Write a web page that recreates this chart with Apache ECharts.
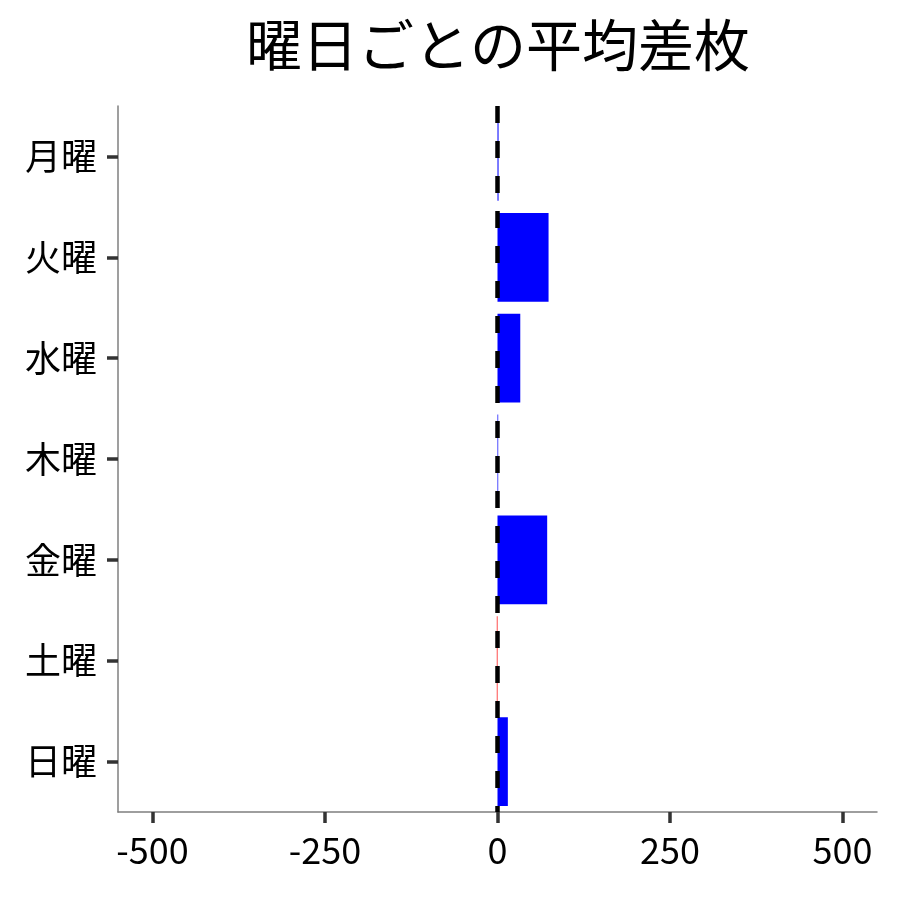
<!DOCTYPE html>
<html>
<head>
<meta charset="utf-8">
<script src="https://cdn.jsdelivr.net/npm/echarts@6/dist/echarts.min.js"></script>
<style>
    html, body { margin: 0; padding: 0; background: #fff; }
    #chart { width: 900px; height: 900px; }
</style>
</head>
<body>
<div id="chart"></div>
<script>
var days = ['月曜', '火曜', '水曜', '木曜', '金曜', '土曜', '日曜'];
var avgDiff = [1.5, 74, 33, 1, 72, -1, 15];
var xTicks = [-500, -250, 0, 250, 500];

var fontName = '"Noto Sans CJK JP", "Noto Sans", sans-serif';

var chartDom = document.getElementById('chart');
var myChart = echarts.init(chartDom);
var option;

option = {
    animation: false,
    title: {
        text: '曜日ごとの平均差枚',
        left: 241,
        top: 12,
        textStyle: {
            fontFamily: fontName,
            fontSize: 56,
            fontWeight: 'normal',
            color: '#000'
        }
    },
    grid: {
        left: 118,
        right: 23,
        top: 106,
        bottom: 88,
        containLabel: false
    },
    xAxis: {
        type: 'value',
        min: -550,
        max: 550,
        splitLine: { show: false },
        axisLine: { show: true, onZero: false, lineStyle: { color: '#7f7f7f', width: 1.5 } },
        axisTick: {
            show: true,
            customValues: xTicks,
            length: 11,
            lineStyle: { color: '#333', width: 3.5 }
        },
        axisLabel: {
            customValues: xTicks,
            margin: 20,
            fontFamily: fontName,
            fontSize: 36,
            color: '#000'
        }
    },
    yAxis: {
        type: 'category',
        inverse: true,
        data: days,
        axisLine: { show: true, onZero: false, lineStyle: { color: '#7f7f7f', width: 1.5 } },
        axisTick: {
            show: true,
            alignWithLabel: true,
            length: 11,
            lineStyle: { color: '#333', width: 3.5 }
        },
        axisLabel: {
            margin: 21,
            fontFamily: fontName,
            fontSize: 36,
            color: '#000'
        }
    },
    series: [{
        type: 'bar',
        data: avgDiff,
        barWidth: '88%',
        itemStyle: {
            color: function (p) {
                return p.value >= 0 ? '#0000ff' : '#ff0000';
            }
        },
        markLine: {
            silent: true,
            symbol: ['none', 'none'],
            label: { show: false },
            lineStyle: { color: '#000', width: 4.5, type: [17, 18] },
            data: [{ xAxis: 0 }]
        }
    }]
};

myChart.setOption(option);
</script>
</body>
</html>
